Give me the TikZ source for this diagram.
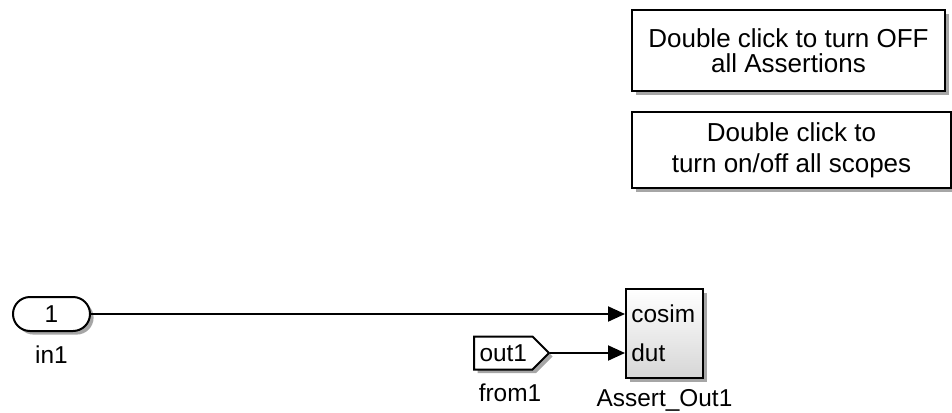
\documentclass[tikz,border=0pt]{standalone}
\usepackage{fontspec}
\setmainfont{Liberation Sans}
\usetikzlibrary{arrows.meta,positioning,shapes.symbols,shadows}

\begin{document}
\begin{tikzpicture}[x=0.5pt,y=-0.5pt,
  blk/.style={draw,line width=1pt,inner sep=0pt},
  shd/.style={drop shadow={shadow xshift=1.8pt,shadow yshift=-1.8pt,opacity=0.35,fill=black}},
  wire/.style={line width=1pt,-{Triangle[length=8.5pt,width=7.5pt]}},
  lbl/.style={font=\fontsize{12.2}{14}\selectfont,inner sep=0pt}]
  \useasboundingbox (0,0) rectangle (952,412);
  % annotation boxes
  \node[blk,shd,fill=white,minimum width=156.5pt,minimum height=40.5pt,align=center,
    font=\fontsize{13}{12.5}\selectfont] (assertoff) at (788.5,50.5) {Double click to turn OFF\\all Assertions};
  \node[blk,shd,fill=white,minimum width=159.5pt,minimum height=38pt,align=center,
    font=\fontsize{13}{15.5}\selectfont] (scopesoff) at (791.5,150) {Double click to\\turn on/off all scopes};
  % blocks
  \node[blk,shd,fill=white,rounded corners=8.5pt,minimum width=38.5pt,minimum height=17pt,lbl] (in1) at (51.5,314) {1};
  \node[lbl] at (51.5,355) {in1};
  \node[blk,shd,fill=white,signal,signal to=east,minimum width=37.5pt,minimum height=16.5pt,
    lbl,anchor=west,inner xsep=0.5pt] (from1) at (473,353) {out1};
  \node[lbl] at (510,393) {from1};
  \node[blk,shd,top color=white,bottom color=black!16,minimum width=38.5pt,minimum height=44.5pt] (assert) at (664.5,333.5) {};
  \node[lbl,anchor=west] (cosim) at (631,314) {cosim};
  \node[lbl,anchor=west] (dut) at (631,353) {dut};
  \node[lbl] at (664.5,400) {Assert\_Out1};
  % signals
  \draw[wire] (in1.east) -- (in1.east -| assert.west);
  \draw[wire] (from1.east) -- (from1.east -| assert.west);
\end{tikzpicture}
\end{document}
